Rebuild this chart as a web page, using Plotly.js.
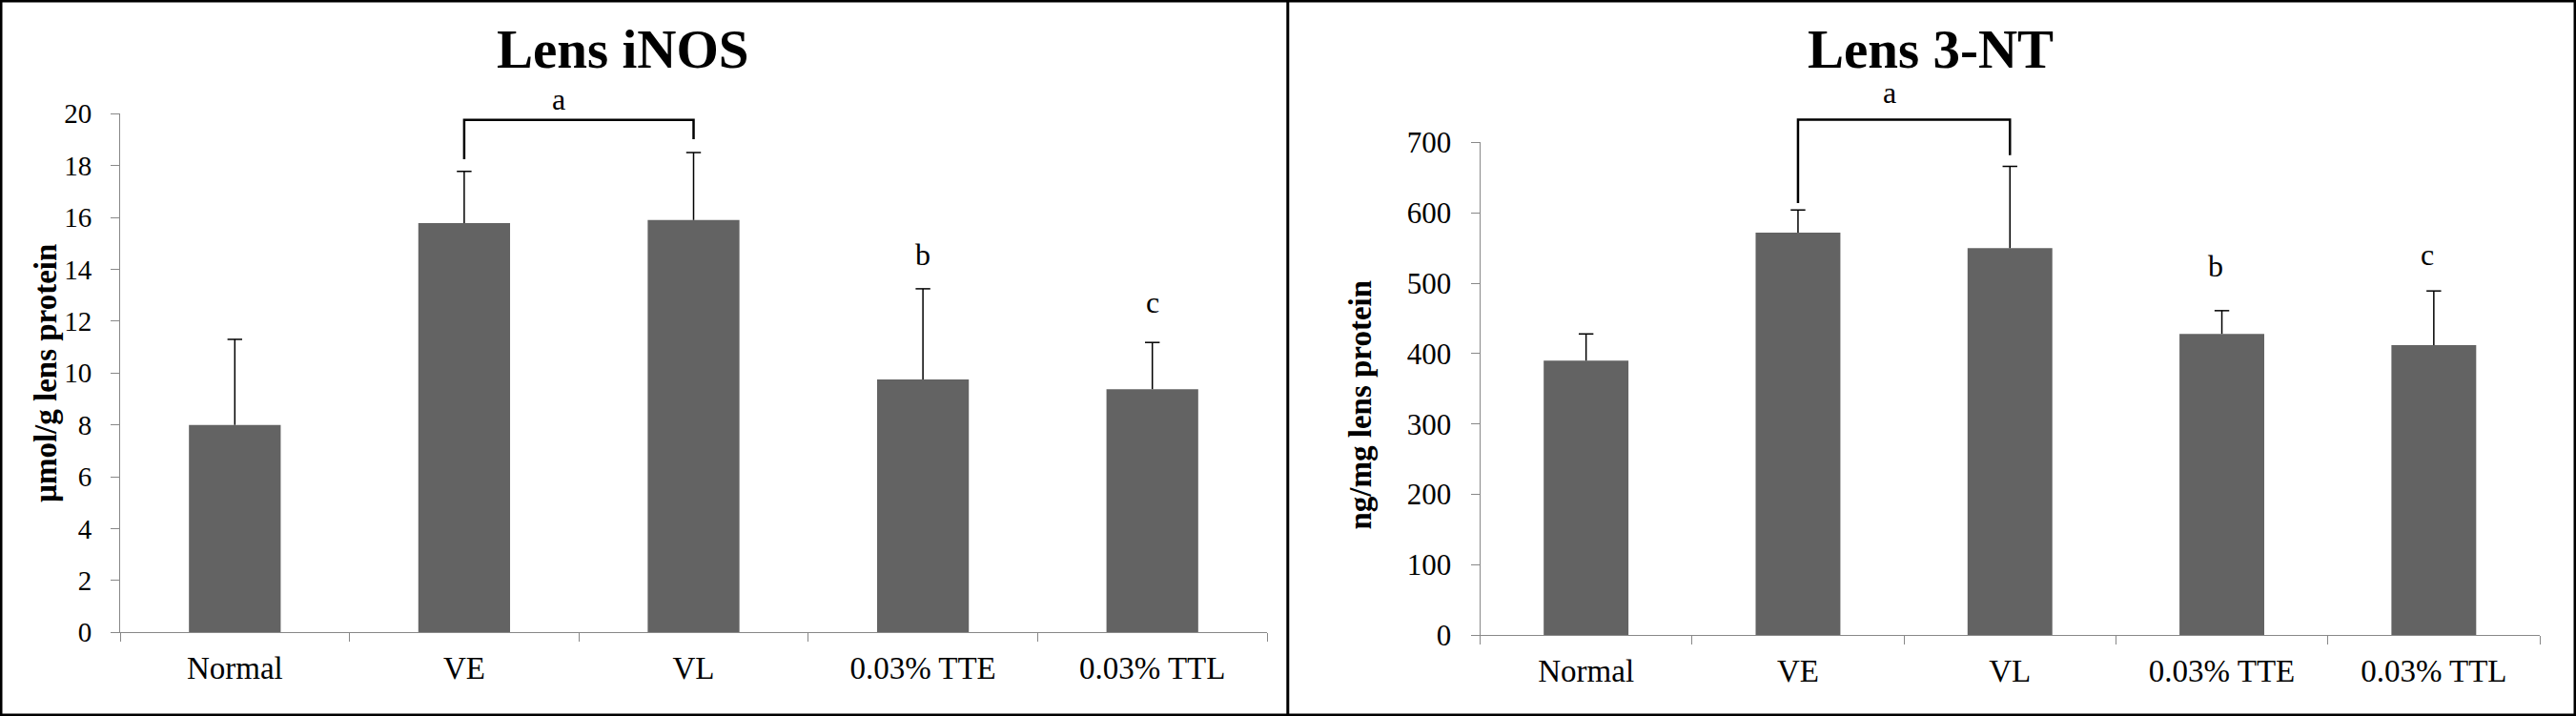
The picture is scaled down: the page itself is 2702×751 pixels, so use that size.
<!DOCTYPE html>
<html>
<head>
<meta charset="utf-8">
<script src="https://cdn.plot.ly/plotly-3.0.1.min.js"></script>
<style>
html,body{margin:0;padding:0;background:#fff;}
#chart{width:2702px;height:751px;}
</style>
</head>
<body>
<div id="chart"></div>
<script>
// ---- data ----
var categories = ["Normal", "VE", "VL", "0.03% TTE", "0.03% TTL"];
var inosValues = [8.0, 15.78, 15.9, 9.75, 9.38];
var inosErrors = [3.3, 2.0, 2.6, 3.5, 1.8];
var ntValues = [390, 572, 550, 428, 412];
var ntErrors = [38, 32, 116, 33, 77];
var inosTicks = [0, 2, 4, 6, 8, 10, 12, 14, 16, 18, 20];
var ntTicks = [0, 100, 200, 300, 400, 500, 600, 700];
var inosTitle = "Lens iNOS";
var ntTitle = "Lens 3-NT";
var inosYLabel = "µmol/g lens protein";
var ntYLabel = "ng/mg lens protein";

var FONT = "Liberation Serif, Times New Roman, serif";
var BAR = "#636363";
var AX = "#888888";

function sumArr(a, b) { return a.map(function (v, i) { return v + b[i]; }); }
function zeros(n) { var z = []; for (var i = 0; i < n; i++) z.push(0); return z; }

function barTrace(vals, errs, xa, ya) {
  return {
    type: "bar", x: categories, y: vals, xaxis: xa, yaxis: ya,
    width: 0.4, marker: { color: BAR, line: { width: 0 } },
    error_y: { type: "data", symmetric: false, array: errs, arrayminus: zeros(errs.length),
      color: "#000", thickness: 1.5, width: 0 },
    showlegend: false, hoverinfo: "x+y"
  };
}
function capTrace(vals, errs, xa, ya) {
  return {
    type: "scatter", mode: "markers", x: categories, y: sumArr(vals, errs), xaxis: xa, yaxis: ya,
    marker: { symbol: "line-ew", size: 11, color: "#000", line: { color: "#000", width: 1.5 } },
    showlegend: false, hoverinfo: "skip"
  };
}

var data = [
  barTrace(inosValues, inosErrors, "x", "y"),
  capTrace(inosValues, inosErrors, "x", "y"),
  barTrace(ntValues, ntErrors, "x2", "y2"),
  capTrace(ntValues, ntErrors, "x2", "y2")
];

var inosMax = inosTicks[inosTicks.length - 1];
var ntMax = ntTicks[ntTicks.length - 1];

function xAxis(domain, anchor) {
  return {
    domain: domain, anchor: anchor, type: "category", range: [-0.5, 4.5],
    tickson: "boundaries", ticks: "outside", ticklen: 9, tickwidth: 1, tickcolor: AX,
    showline: true, linecolor: AX, linewidth: 1, showgrid: false, zeroline: false,
    tickfont: { family: FONT, size: 33, color: "#000" }, ticklabelstandoff: 8,
    fixedrange: true
  };
}
function yAxis(domain, anchor, ticks, size, standoff) {
  return {
    domain: domain, anchor: anchor, range: [0, ticks[ticks.length - 1]],
    tickmode: "array", tickvals: ticks, ticktext: ticks.map(String),
    ticks: "outside", ticklen: 9, tickwidth: 1, tickcolor: AX,
    showline: true, linecolor: AX, linewidth: 1, showgrid: false, zeroline: false,
    tickfont: { family: FONT, size: size, color: "#000" }, ticklabelstandoff: standoff,
    fixedrange: true
  };
}

var W = 2702, H = 751;
var layout = {
  width: W, height: H,
  margin: { l: 0, r: 0, t: 0, b: 0, pad: 0 },
  paper_bgcolor: "#fff", plot_bgcolor: "rgba(0,0,0,0)",
  bargap: 0.6,
  xaxis: xAxis([126 / W, 1329 / W], "y"),
  yaxis: yAxis([(H - 663.3) / H, (H - 119.3) / H], "x", inosTicks, 29, 14),
  xaxis2: xAxis([1552.5 / W, 2664 / W], "y2"),
  yaxis2: yAxis([(H - 666.2) / H, (H - 149.4) / H], "x2", ntTicks, 31, 14),
  shapes: [
    // outer frame and divider
    { type: "rect", xref: "paper", yref: "paper", x0: 0, x1: 1, y0: 0, y1: 1,
      line: { color: "#000", width: 5 } },
    { type: "line", xref: "paper", yref: "paper", x0: 1350.8 / W, x1: 1350.8 / W, y0: 0, y1: 1,
      line: { color: "#000", width: 3 } },
    // significance brackets
    { type: "path", xref: "x", yref: "y", path: "M1,18.25 V19.76 H2 V19.02",
      line: { color: "#000", width: 2.5 } },
    { type: "path", xref: "x2", yref: "y2 domain",
      path: "M1," + (613.8 / ntMax) + " V" + (732.4 / ntMax) + " H2 V" + (681.8 / ntMax),
      line: { color: "#000", width: 2.5 } }
  ],
  annotations: [
    { text: "<b>" + inosTitle + "</b>", xref: "paper", yref: "paper", x: 653 / W, y: (H - 51.7) / H,
      xanchor: "center", yanchor: "middle", showarrow: false, font: { family: FONT, size: 57, color: "#000" } },
    { text: "<b>" + ntTitle + "</b>", xref: "paper", yref: "paper", x: 2024.5 / W, y: (H - 51.7) / H,
      xanchor: "center", yanchor: "middle", showarrow: false, font: { family: FONT, size: 57, color: "#000" } },
    { text: "<b>" + inosYLabel + "</b>", xref: "paper", yref: "paper", x: 48.6 / W, y: (H - 391.5) / H,
      textangle: -90, xanchor: "center", yanchor: "middle", showarrow: false, font: { family: FONT, size: 33, color: "#000" } },
    { text: "<b>" + ntYLabel + "</b>", xref: "paper", yref: "paper", x: 1426.5 / W, y: (H - 424) / H,
      textangle: -90, xanchor: "center", yanchor: "middle", showarrow: false, font: { family: FONT, size: 33, color: "#000" } },
    // letters
    { text: "a", xref: "x", yref: "y domain", x: 1.41, y: 20.56 / inosMax, showarrow: false,
      xanchor: "center", yanchor: "middle", font: { family: FONT, size: 32, color: "#000" } },
    { text: "b", xref: "x", yref: "y domain", x: 3, y: 14.57 / inosMax, showarrow: false,
      xanchor: "center", yanchor: "middle", font: { family: FONT, size: 32, color: "#000" } },
    { text: "c", xref: "x", yref: "y domain", x: 4, y: 12.72 / inosMax, showarrow: false,
      xanchor: "center", yanchor: "middle", font: { family: FONT, size: 32, color: "#000" } },
    { text: "a", xref: "x2", yref: "y2 domain", x: 1.43, y: 771 / ntMax, showarrow: false,
      xanchor: "center", yanchor: "middle", font: { family: FONT, size: 32, color: "#000" } },
    { text: "b", xref: "x2", yref: "y2 domain", x: 2.97, y: 524.5 / ntMax, showarrow: false,
      xanchor: "center", yanchor: "middle", font: { family: FONT, size: 32, color: "#000" } },
    { text: "c", xref: "x2", yref: "y2 domain", x: 3.97, y: 540.7 / ntMax, showarrow: false,
      xanchor: "center", yanchor: "middle", font: { family: FONT, size: 32, color: "#000" } }
  ]
};

Plotly.newPlot("chart", data, layout, { staticPlot: true, displayModeBar: false });
</script>
</body>
</html>
